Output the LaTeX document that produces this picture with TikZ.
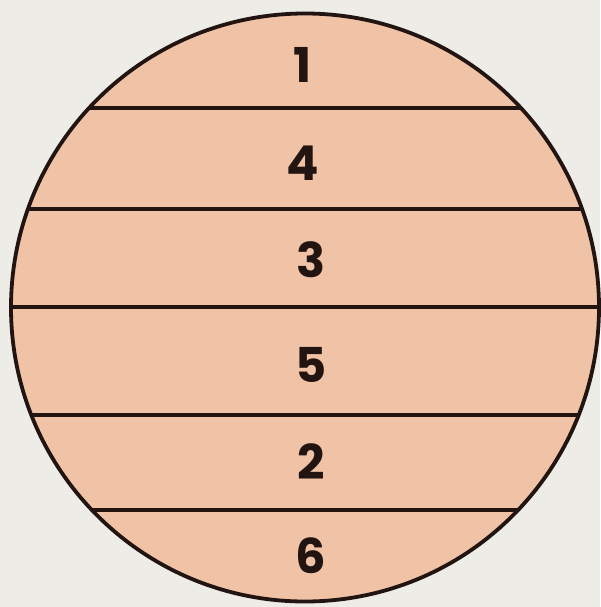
\documentclass[tikz,border=0pt]{standalone}
\usepackage{fontspec}
\setmainfont{Poppins}
\definecolor{bgc}{RGB}{237,236,231}
\definecolor{peach}{RGB}{240,195,167}
\definecolor{ink}{RGB}{34,20,16}
\tikzset{
  divider/.style={draw=ink, line width=3.8pt},
  num/.style={font=\fontsize{48}{48}\selectfont\bfseries, text=ink, inner sep=0pt, anchor=center}
}
\begin{document}
\begin{tikzpicture}[x=1pt,y=-1pt]
\fill[bgc] (0,0) rectangle (600,607);
\useasboundingbox (0,0) rectangle (600,607);
\coordinate (c) at (305,307.5);
\begin{scope}
\clip (c) circle (294);
\fill[peach] (c) circle (294);
\foreach \yy/\nm in {108/a,209/b,307/c3,415/d,510/e}{
  \coordinate (\nm L) at (0,\yy);
  \coordinate (\nm R) at (600,\yy);
  \draw[divider] (\nm L) -- (\nm R);
}
\end{scope}
\draw[ink, line width=3.8pt] (c) circle (294);
\node[num] (n1) at (303,65) {1};
\node[num] (n4) at (303,163) {4};
\node[num] (n3) at (311,260) {3};
\node[num] (n5) at (311,365) {5};
\node[num] (n2) at (311,462) {2};
\node[num] (n6) at (311,556) {6};
\end{tikzpicture}
\end{document}
